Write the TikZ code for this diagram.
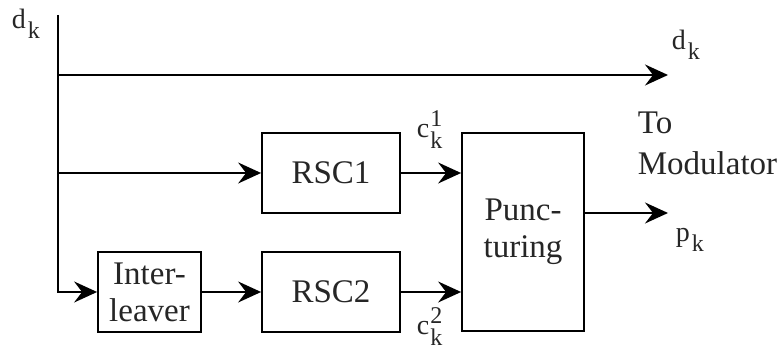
\documentclass[tikz,border=0pt]{standalone}
\usepackage{fontspec}
\setmainfont{Liberation Serif}
\usetikzlibrary{arrows.meta}
\newcommand{\lbsub}[2]{#1\kern2pt\raisebox{-10pt}{\fontsize{24}{24}\selectfont #2}}
\newcommand{\lbsubsup}[3]{#1\kern1pt\rlap{\raisebox{11pt}{\fontsize{24}{24}\selectfont #3}}\raisebox{-11pt}{\fontsize{24}{24}\selectfont #2}}
\begin{document}
\begin{tikzpicture}[x=1pt,y=-1pt,line width=1.8pt,
  >={Stealth[length=23pt,width=21pt,inset=8pt]},
  blk/.style={draw,inner sep=0,align=center,font=\fontsize{33}{37}\selectfont,text=black!85},
  lbl/.style={inner sep=0,anchor=base west,font=\fontsize{28}{28}\selectfont,text=black!85}]
\useasboundingbox (0,0) rectangle (782,352);
\node[blk,minimum width=138,minimum height=80] (rsc1) at (331,173) {RSC1};
\node[blk,minimum width=138,minimum height=80] (rsc2) at (331,292) {RSC2};
\node[blk,minimum width=103,minimum height=80] (il) at (149.5,292) {Inter-\\leaver};
\node[blk,minimum width=122,minimum height=198] (punct) at (523,232) {Punc-\\turing};
\coordinate (s) at (58,15);
\coordinate (b1) at (58,75);
\coordinate (b2) at (58,173);
\coordinate (dout) at (668,75);
\coordinate (pout) at (668,213);
\draw[->] (s) |- (il.west);
\draw[->] (b1) -- (dout);
\draw[->] (b2) -- (rsc1.west);
\draw[->] (il.east) -- (rsc2.west);
\draw[->] (rsc1.east) -- (punct.west |- rsc1.east);
\draw[->] (rsc2.east) -- (punct.west |- rsc2.east);
\draw[->] (punct.east |- pout) -- (pout);
\node[lbl] (din) at (11,29) {\lbsub{d}{k}};
\node[lbl] (dk) at (671,50) {\lbsub{d}{k}};
\node[lbl] (pk) at (675,242) {\lbsub{p}{k}};
\node[lbl] (c1) at (416,138) {\lbsubsup{c}{k}{1}};
\node[lbl] (c2) at (416,335) {\lbsubsup{c}{k}{2}};
\node[lbl,font=\fontsize{33}{33}\selectfont] (to) at (637,134) {To};
\node[lbl,font=\fontsize{33}{33}\selectfont] (mod) at (637,175) {Modulator};
\end{tikzpicture}
\end{document}
